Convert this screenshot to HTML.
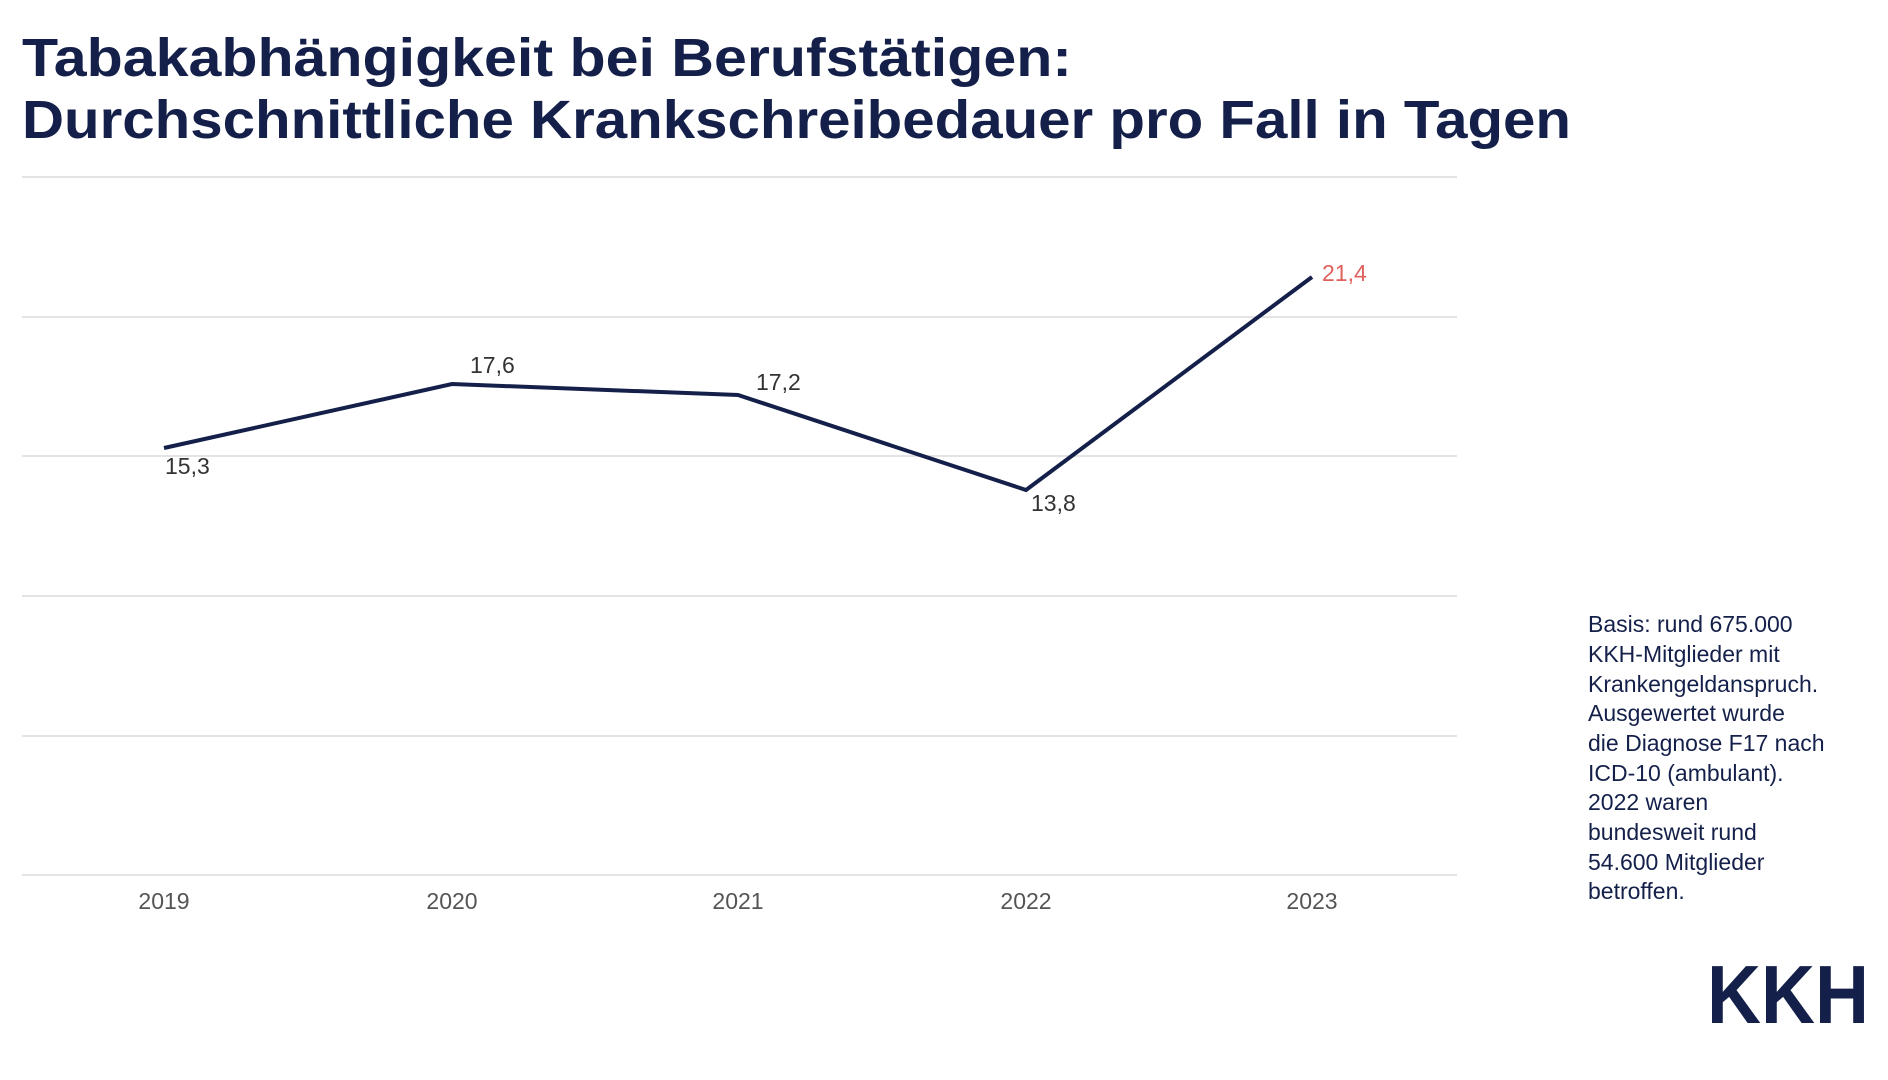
<!DOCTYPE html>
<html><head><meta charset="utf-8"><style>
html,body{margin:0;padding:0;background:#fff;}
svg{display:block;}
</style></head><body>
<svg width="1888" height="1080" viewBox="0 0 1888 1080" xmlns="http://www.w3.org/2000/svg" font-family="Liberation Sans, sans-serif">
<text x="22" y="76" font-size="54" font-weight="bold" fill="#14204a" textLength="1050" lengthAdjust="spacingAndGlyphs">Tabakabhängigkeit bei Berufstätigen:</text>
<text x="22" y="138" font-size="54" font-weight="bold" fill="#14204a" textLength="1549" lengthAdjust="spacingAndGlyphs">Durchschnittliche Krankschreibedauer pro Fall in Tagen</text>
<g stroke="#dcdcdc" stroke-width="1.5">
<line x1="22" x2="1457" y1="177" y2="177"/>
<line x1="22" x2="1457" y1="317" y2="317"/>
<line x1="22" x2="1457" y1="456" y2="456"/>
<line x1="22" x2="1457" y1="596" y2="596"/>
<line x1="22" x2="1457" y1="736" y2="736"/>
<line x1="22" x2="1457" y1="875" y2="875"/>
</g>
<polyline points="164,448 452,384 738,395 1026,490 1312,277" fill="none" stroke="#14204a" stroke-width="4" stroke-linejoin="miter"/>
<g font-size="23" fill="#333">
<text x="165" y="474">15,3</text>
<text x="470" y="373">17,6</text>
<text x="756" y="390">17,2</text>
<text x="1031" y="511">13,8</text>
<text x="1322" y="281" fill="#e0605c">21,4</text>
</g>
<g font-size="23" fill="#555" text-anchor="middle">
<text x="164" y="909">2019</text>
<text x="452" y="909">2020</text>
<text x="738" y="909">2021</text>
<text x="1026" y="909">2022</text>
<text x="1312" y="909">2023</text>
</g>
<g font-size="23" fill="#14204a">
<text x="1588" y="632">Basis: rund 675.000</text>
<text x="1588" y="662">KKH-Mitglieder mit</text>
<text x="1588" y="692">Krankengeldanspruch.</text>
<text x="1588" y="721">Ausgewertet wurde</text>
<text x="1588" y="751">die Diagnose F17 nach</text>
<text x="1588" y="781">ICD-10 (ambulant).</text>
<text x="1588" y="810">2022 waren</text>
<text x="1588" y="840">bundesweit rund</text>
<text x="1588" y="870">54.600 Mitglieder</text>
<text x="1588" y="899">betroffen.</text>
</g>
<text x="1707" y="1023" font-size="83" font-weight="bold" fill="#14204a" textLength="162" lengthAdjust="spacingAndGlyphs">KKH</text>
</svg>
</body></html>
